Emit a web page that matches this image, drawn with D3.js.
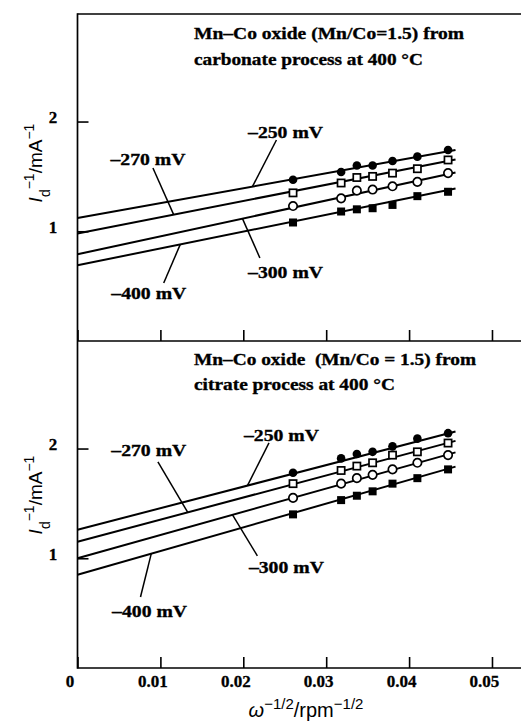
<!DOCTYPE html>
<html><head><meta charset="utf-8">
<script src="https://cdn.jsdelivr.net/npm/d3@7"></script>
<style>body{margin:0;background:#fff} svg{display:block}</style>
</head><body><svg id="c" width="521" height="725"></svg>
<script>
// ---- data ----
const omegaValues = [0.0260, 0.0318, 0.0337, 0.0356, 0.0380, 0.0410, 0.0447]; // ω^-1/2
const potentialLabels = ["–250 mV", "–270 mV", "–300 mV", "–400 mV"];
const markerKinds = ["filledCircle", "openSquare", "openCircle", "filledSquare"];
const xTicks = [0, 0.01, 0.02, 0.03, 0.04, 0.05];
const xTickLabels = ["0", "0.01", "0.02", "0.03", "0.04", "0.05"];
const yTicks = [1, 2];
const yTickLabels = ["1", "2"];

// carbonate process (top panel)
const carbonate250 = [1.47, 1.54, 1.60, 1.60, 1.64, 1.68, 1.74];
const carbonate270 = [1.35, 1.44, 1.49, 1.50, 1.53, 1.57, 1.65];
const carbonate300 = [1.23, 1.30, 1.37, 1.38, 1.41, 1.45, 1.53];
const carbonate400 = [1.08, 1.18, 1.20, 1.21, 1.24, 1.32, 1.36];
const carbonateFitStart = [1.12, 0.98, 0.79, 0.69];
const carbonateFitEnd = [1.74, 1.655, 1.535, 1.39];

// citrate process (bottom panel)
const citrate250 = [1.78, 1.91, 1.95, 1.97, 2.02, 2.09, 2.14];
const citrate270 = [1.68, 1.80, 1.84, 1.87, 1.94, 1.97, 2.05];
const citrate300 = [1.55, 1.68, 1.73, 1.76, 1.81, 1.87, 1.94];
const citrate400 = [1.40, 1.53, 1.57, 1.61, 1.68, 1.73, 1.81];
const citrateFitStart = [1.26, 1.15, 1.00, 0.85];
const citrateFitEnd = [2.155, 2.07, 1.965, 1.835];

const fitX = [0, 0.0456];

const carbonateTitle = ["Mn–Co oxide (Mn/Co=1.5) from", "carbonate process at 400 °C"];
const citrateTitle = ["Mn–Co oxide  (Mn/Co = 1.5) from", "citrate process at 400 °C"];

// callouts: [series index, x on fit line, leader start x, leader start y, text x, text baseline y] (data units)
const carbonateCallouts = [
  [0, 0.0211, 0.0240, 1.832, 0.0251, 1.85],
  [1, 0.0116, 0.0091, 1.577, 0.0085, 1.604],
  [2, 0.0199, 0.0220, 0.757, 0.0251, 0.574],
  [3, 0.0124, 0.0104, 0.529, 0.0086, 0.383]
];
const citrateCallouts = [
  [0, 0.0205, 0.0231, 2.051, 0.0246, 2.069],
  [1, 0.0133, 0.0097, 1.878, 0.0086, 1.933],
  [2, 0.0187, 0.0217, 1.021, 0.0252, 0.866],
  [3, 0.0089, 0.0076, 0.647, 0.0087, 0.465]
];

// ---- layout ----
const W = 521, H = 725;
const left = 77.5, right = 521;
const panelTop = 14, panelMid = 341, panelBottom = 668;
const serif = "'Liberation Serif','Times New Roman',Times,serif";
const sans = "'Liberation Sans',Arial,Helvetica,sans-serif";

const svg = d3.select("#c");
svg.append("rect").attr("width", W).attr("height", H).attr("fill", "#fff");

const x = d3.scaleLinear().domain([0, 0.0535]).range([left, right]);

const panels = [
  { top: panelTop, bottom: panelMid, series: [carbonate250, carbonate270, carbonate300, carbonate400],
    fitStart: carbonateFitStart, fitEnd: carbonateFitEnd, title: carbonateTitle,
    titleY: [39, 65], titleLen: [270, 229], callouts: carbonateCallouts, labels: false, yLabelY: 163 },
  { top: panelMid, bottom: panelBottom, series: [citrate250, citrate270, citrate300, citrate400],
    fitStart: citrateFitStart, fitEnd: citrateFitEnd, title: citrateTitle,
    titleY: [365, 390], titleLen: [282, 201], callouts: citrateCallouts, labels: true, yLabelY: 495 }
];

const calloutLen = 75;

panels.forEach(p => {
  const y = d3.scaleLinear().domain([0, 2.98]).range([p.bottom, p.top]);
  const g = svg.append("g");

  // x axis ticks (inward)
  const xa = d3.axisBottom(x).tickValues(xTicks).tickSizeInner(-11).tickSizeOuter(0)
    .tickPadding(0).tickFormat((d, i) => p.labels ? xTickLabels[i] : "");
  const gx = g.append("g").attr("transform", `translate(0,${p.bottom})`).call(xa);
  gx.select(".domain").remove();
  gx.selectAll(".tick line").attr("stroke", "#000").attr("stroke-width", 1.6);
  gx.selectAll(".tick text").attr("font-family", serif).attr("font-weight", "bold")
    .attr("font-size", 17).attr("fill", "#000").attr("stroke", "#000").attr("stroke-width", 0.3)
    .attr("dy", null).attr("y", 19).attr("dx", -8);

  // y axis ticks (inward)
  const ya = d3.axisLeft(y).tickValues(yTicks).tickSizeInner(-11).tickSizeOuter(0)
    .tickPadding(0).tickFormat((d, i) => yTickLabels[i]);
  const gy = g.append("g").attr("transform", `translate(${left},0)`).call(ya);
  gy.select(".domain").remove();
  gy.selectAll(".tick line").attr("stroke", "#000").attr("stroke-width", 1.6);
  gy.selectAll(".tick text").attr("font-family", serif).attr("font-weight", "bold")
    .attr("font-size", 17).attr("fill", "#000").attr("stroke", "#000").attr("stroke-width", 0.3)
    .attr("text-anchor", "middle").attr("x", 53 - left).attr("dy", "0.05em");

  // fitted lines
  p.series.forEach((s, i) => {
    g.append("line")
      .attr("x1", x(fitX[0])).attr("y1", y(p.fitStart[i]))
      .attr("x2", x(fitX[1])).attr("y2", y(p.fitEnd[i]))
      .attr("stroke", "#000").attr("stroke-width", 2);
  });

  // markers
  p.series.forEach((s, i) => {
    const kind = markerKinds[i];
    const pts = g.append("g").selectAll("g").data(s).join("g")
      .attr("transform", (d, j) => `translate(${x(omegaValues[j])},${y(d)})`);
    if (kind === "filledCircle") pts.append("circle").attr("r", 4.3).attr("fill", "#000");
    if (kind === "openCircle") pts.append("circle").attr("r", 4.2).attr("fill", "#fff")
      .attr("stroke", "#000").attr("stroke-width", 1.7);
    if (kind === "openSquare") pts.append("rect").attr("x", -3.6).attr("y", -3.6)
      .attr("width", 7.2).attr("height", 7.2).attr("fill", "#fff").attr("stroke", "#000").attr("stroke-width", 1.7);
    if (kind === "filledSquare") pts.append("rect").attr("x", -4).attr("y", -4)
      .attr("width", 8).attr("height", 8).attr("fill", "#000");
  });

  // callouts
  p.callouts.forEach(c => {
    const [si, xl, x1, y1, tx, ty] = c;
    const yl = p.fitStart[si] + (p.fitEnd[si] - p.fitStart[si]) * (xl - fitX[0]) / (fitX[1] - fitX[0]);
    g.append("line").attr("x1", x(x1)).attr("y1", y(y1)).attr("x2", x(xl)).attr("y2", y(yl))
      .attr("stroke", "#000").attr("stroke-width", 1.5);
    g.append("text").attr("x", x(tx)).attr("y", y(ty)).attr("text-anchor", "middle")
      .attr("font-family", serif).attr("font-weight", "bold").attr("font-size", 17.5)
      .attr("stroke", "#000").attr("stroke-width", 0.35)
      .attr("textLength", calloutLen).attr("lengthAdjust", "spacingAndGlyphs")
      .text(potentialLabels[si]);
  });

  // title
  p.title.forEach((t, i) => {
    g.append("text").attr("x", 194).attr("y", p.titleY[i])
      .attr("font-family", serif).attr("font-weight", "bold").attr("font-size", 17.5)
      .attr("stroke", "#000").attr("stroke-width", 0.35)
      .attr("textLength", p.titleLen[i]).attr("lengthAdjust", "spacingAndGlyphs")
      .attr("xml:space", "preserve").style("white-space", "pre")
      .text(t);
  });

  // y-axis label
  const yl = g.append("text").attr("transform", `translate(42,${p.yLabelY}) rotate(-90)`)
    .attr("text-anchor", "middle").attr("font-family", sans).attr("font-size", 19).attr("fill", "#000");
  yl.append("tspan").attr("font-style", "italic").text("I");
  yl.append("tspan").attr("baseline-shift", "sub").attr("font-size", 14).text("d");
  yl.append("tspan").attr("baseline-shift", "super").attr("font-size", 14).text("−1");
  yl.append("tspan").text("/mA");
  yl.append("tspan").attr("baseline-shift", "super").attr("font-size", 14).text("−1");
});

// frame
const frame = svg.append("g").attr("stroke", "#000").attr("stroke-width", 1.7);
frame.append("line").attr("x1", left).attr("x2", left).attr("y1", panelTop - 0.8).attr("y2", panelBottom + 0.8);
[panelTop, panelMid, panelBottom].forEach(yy =>
  frame.append("line").attr("x1", left).attr("x2", right).attr("y1", yy).attr("y2", yy));

// x-axis label
const xl = svg.append("text").attr("x", 306).attr("y", 717).attr("text-anchor", "middle")
  .attr("font-family", sans).attr("font-size", 20).attr("fill", "#000");
xl.append("tspan").attr("font-style", "italic").text("ω");
xl.append("tspan").attr("baseline-shift", "super").attr("font-size", 15).text("−1/2");
xl.append("tspan").text("/rpm");
xl.append("tspan").attr("baseline-shift", "super").attr("font-size", 15).text("−1/2");
</script>
</body></html>
